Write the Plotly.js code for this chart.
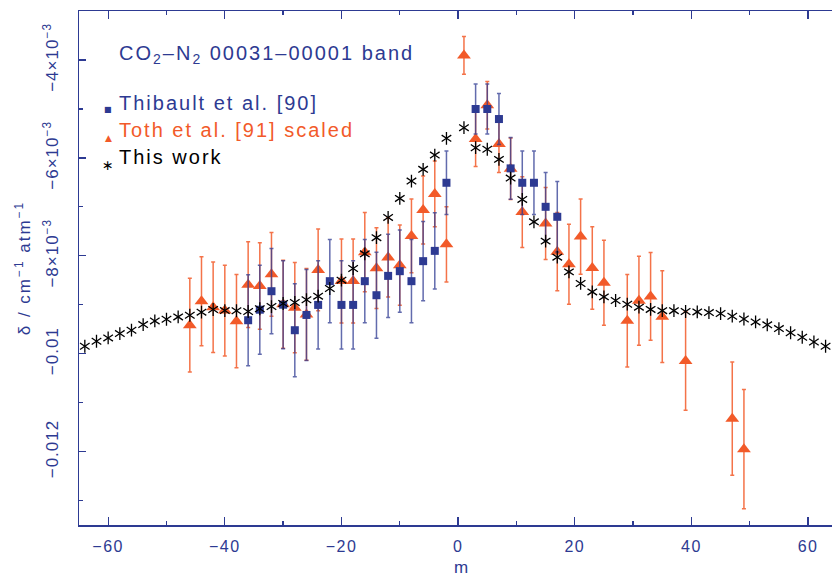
<!DOCTYPE html>
<html>
<head>
<meta charset="utf-8">
<script src="https://cdn.plot.ly/plotly-3.0.1.min.js"></script>
<style>
html, body { margin: 0; padding: 0; overflow: hidden; background: #fff; }
#chart { width: 832px; height: 577px; }
.annotation-text { letter-spacing: 2px; }
.ytick text { letter-spacing: 1px; }
.xtick text { letter-spacing: 1.5px; }
</style>
</head>
<body>
<div id="chart"></div>
<script>
// ---- Data ----
const mStar = [-64,-62,-60,-58,-56,-54,-52,-50,-48,-46,-44,-42,-40,-38,-36,-34,-32,-30,-28,-26,-24,-22,-20,-18,-16,-14,-12,-10,-8,-6,-4,-2,
  1,3,5,7,9,11,13,15,17,19,21,23,25,27,29,31,33,35,37,39,41,43,45,47,49,51,53,55,57,59,61,63];
const deltaStar = [-0.009849,-0.009746,-0.009679,-0.009589,-0.009521,-0.009405,-0.009331,-0.009297,-0.009249,-0.009215,-0.009153,-0.009098,-0.009119,-0.009123,-0.009139,-0.009082,
  -0.009037,-0.008975,-0.008955,-0.008898,-0.008826,-0.008669,-0.008499,-0.008260,-0.007961,-0.007630,-0.007217,-0.006828,-0.006474,-0.006235,-0.005943,-0.005601,
  -0.005384,-0.005793,-0.005824,-0.006031,-0.006413,-0.006849,-0.007307,-0.007701,-0.008029,-0.008329,-0.008566,-0.008738,-0.008840,-0.008914,-0.008990,-0.009051,
  -0.009096,-0.009121,-0.009121,-0.009139,-0.009147,-0.009160,-0.009180,-0.009235,-0.009292,-0.009352,-0.009411,-0.009487,-0.009573,-0.009665,-0.009761,-0.009849];

const mThib = [-36,-34,-32,-30,-28,-26,-24,-22,-20,-18,-16,-14,-12,-10,-8,-6,-4,-2,3,5,7,9,11,13,15,17];
const deltaThib = [-0.009317,-0.009102,-0.008724,-0.009000,-0.009521,-0.009209,-0.009004,-0.008519,-0.009004,-0.009004,-0.008519,-0.008806,-0.008411,
  -0.008315,-0.008519,-0.008110,-0.007900,-0.006509,-0.005002,-0.005002,-0.005207,-0.006215,-0.006509,-0.006509,-0.007000,-0.007204];
const errThib = [0.00093,0.00091,0.00087,0.00090,0.00095,0.00093,0.00090,0.00085,0.00090,0.00090,0.00085,0.00088,0.00085,
  0.00084,0.00085,0.00081,0.00078,0.00065,0.00051,0.00051,0.00052,0.00063,0.00065,0.00065,0.00070,0.00072];

const mToth = [-46,-44,-42,-40,-38,-36,-34,-32,-30,-28,-26,-24,-20,-18,-16,-14,-12,-10,-8,-6,-4,-2,1,3,5,7,9,11,15,17,19,21,23,25,29,31,33,35,39,47,49];
const deltaToth = [-0.009419,-0.008928,-0.009051,-0.009119,-0.009337,-0.008591,-0.008616,-0.008380,-0.008990,-0.009061,
  -0.009198,-0.008290,-0.008515,-0.008515,-0.007926,-0.008254,-0.008033,-0.008192,-0.007595,-0.007067,
  -0.006736,-0.007767,-0.003908,-0.005616,-0.004926,-0.005718,-0.006223,-0.007108,-0.007339,-0.007916,
  -0.008172,-0.007609,-0.008250,-0.008550,-0.009327,-0.008918,-0.008830,-0.009245,-0.010151,-0.011327,-0.011951];
const errToth = [0.000958,0.00091,0.000926,0.000927,0.000953,0.000875,0.000884,0.000854,0.0009,0.000922,
  0.000937,0.000835,0.000856,0.000856,0.00081,0.000824,0.000808,0.00082,0.000754,0.000695,
  0.000672,0.000767,0.000385,0.00056,0.000484,0.00058,0.00063,0.000722,0.000736,0.0008,
  0.000818,0.000767,0.000842,0.000869,0.000945,0.00091,0.000897,0.000937,0.001005,0.001158,0.001217];

const yTickVals = [-0.012,-0.01,-0.008,-0.006,-0.004];
const yTickText = ['\u22120.012','\u22120.01','\u22128\u00d710<sup>\u22123</sup>','\u22126\u00d710<sup>\u22123</sup>','\u22124\u00d710<sup>\u22123</sup>'];

const titleText = 'CO<sub>2</sub>\u2013N<sub>2</sub> 00031\u201300001 band';
const legendNames = ['Thibault et al. [90]', 'Toth et al. [91] scaled', 'This work'];

// ---- Style ----
const BLUE = '#2d3a92';
const ORANGE = '#f25a29';
const FONT = 'Liberation Sans, Arial, sans-serif';

const traces = [
  {
    x: mToth, y: deltaToth, type: 'scatter', mode: 'markers', name: legendNames[1],
    marker: {symbol: 'triangle-up', size: 12, color: ORANGE},
    error_y: {type: 'data', array: errToth, visible: true, color: 'rgba(242,90,41,0.85)', thickness: 1.5, width: 2},
    showlegend: false, hoverinfo: 'skip'
  },
  {
    x: mThib, y: deltaThib, type: 'scatter', mode: 'markers', name: legendNames[0],
    marker: {symbol: 'square', size: 8, color: BLUE},
    error_y: {type: 'data', array: errThib, visible: true, color: 'rgba(45,58,146,0.75)', thickness: 1.5, width: 2},
    showlegend: false, hoverinfo: 'skip'
  },
  {
    x: mStar, y: deltaStar, type: 'scatter', mode: 'markers', name: legendNames[2],
    marker: {symbol: 'y-up-open', size: 8, color: '#000', line: {color: '#000', width: 1.3}},
    showlegend: false, hoverinfo: 'skip'
  },
  {
    x: mStar, y: deltaStar, type: 'scatter', mode: 'markers', name: legendNames[2],
    marker: {symbol: 'y-down-open', size: 8, color: '#000', line: {color: '#000', width: 1.3}},
    showlegend: false, hoverinfo: 'skip'
  }
];

const annFont = (size, color) => ({family: FONT, size: size, color: color});

const layout = {
  width: 832, height: 577,
  margin: {l: 79, r: 0, t: 11, b: 52},
  paper_bgcolor: '#fff', plot_bgcolor: '#fff',
  showlegend: false,
  font: {family: FONT, color: BLUE},
  xaxis: {
    range: [-65, 64.1], showgrid: false, zeroline: false,
    showline: true, linecolor: BLUE, linewidth: 1.5, mirror: 'ticks',
    ticks: 'inside', ticklen: 8, tickwidth: 1.3, tickcolor: BLUE,
    tick0: 0, dtick: 20,
    minor: {ticks: 'inside', dtick: 10, tick0: 0, ticklen: 4, tickwidth: 1.3, tickcolor: BLUE, showgrid: false},
    tickfont: {family: FONT, size: 16, color: BLUE},
    ticklabelstandoff: 6
  },
  yaxis: {
    range: [-0.0135, -0.003], showgrid: false, zeroline: false,
    showline: true, linecolor: BLUE, linewidth: 1.5, mirror: false,
    ticks: 'inside', ticklen: 7, tickwidth: 1.3, tickcolor: BLUE,
    tickmode: 'array', tickvals: yTickVals, ticktext: yTickText,
    minor: {ticks: 'inside', tickmode: 'linear', dtick: 0.001, tick0: 0, ticklen: 4, tickwidth: 1.3, tickcolor: BLUE, showgrid: false},
    tickangle: -90,
    tickfont: {family: FONT, size: 17, color: BLUE},
    ticklabelstandoff: 13
  },
  annotations: [
    {xref: 'paper', yref: 'paper', x: 0.0505, y: 0.9144, xanchor: 'left', yanchor: 'middle', showarrow: false,
     text: titleText, font: annFont(20, BLUE)},
    {xref: 'paper', yref: 'paper', x: 0.0505, y: 0.821, xanchor: 'left', yanchor: 'middle', showarrow: false,
     text: legendNames[0], font: annFont(20, BLUE)},
    {xref: 'paper', yref: 'paper', x: 0.0505, y: 0.7685, xanchor: 'left', yanchor: 'middle', showarrow: false,
     text: legendNames[1], font: annFont(20, ORANGE)},
    {xref: 'paper', yref: 'paper', x: 0.0505, y: 0.716, xanchor: 'left', yanchor: 'middle', showarrow: false,
     text: legendNames[2], font: annFont(20, '#000')},
    {xref: 'paper', yref: 'paper', x: 0.040, y: 0.808, xanchor: 'center', yanchor: 'middle', showarrow: false,
     text: '\u25a0', font: {family: 'DejaVu Sans', size: 8, color: BLUE}},
    {xref: 'paper', yref: 'paper', x: 0.040, y: 0.753, xanchor: 'center', yanchor: 'middle', showarrow: false,
     text: '\u25b2', font: {family: 'DejaVu Sans', size: 9, color: ORANGE}},
    {xref: 'paper', yref: 'paper', x: 0.040, y: 0.701, xanchor: 'center', yanchor: 'middle', showarrow: false,
     text: '\u2217', font: {family: 'DejaVu Sans', size: 14, color: '#000'}},
    {xref: 'paper', yref: 'paper', x: -0.074, y: 0.5, xanchor: 'center', yanchor: 'middle', showarrow: false,
     textangle: -90, text: '\u03b4 / cm<sup>\u22121</sup> atm<sup>\u22121</sup>', font: annFont(17, BLUE)},
    {xref: 'paper', yref: 'paper', x: 0.5086, y: -0.083, xanchor: 'center', yanchor: 'middle', showarrow: false,
     text: 'm', font: annFont(17, BLUE)}
  ]
};

Plotly.newPlot('chart', traces, layout, {displayModeBar: false, staticPlot: true});
</script>
</body>
</html>
